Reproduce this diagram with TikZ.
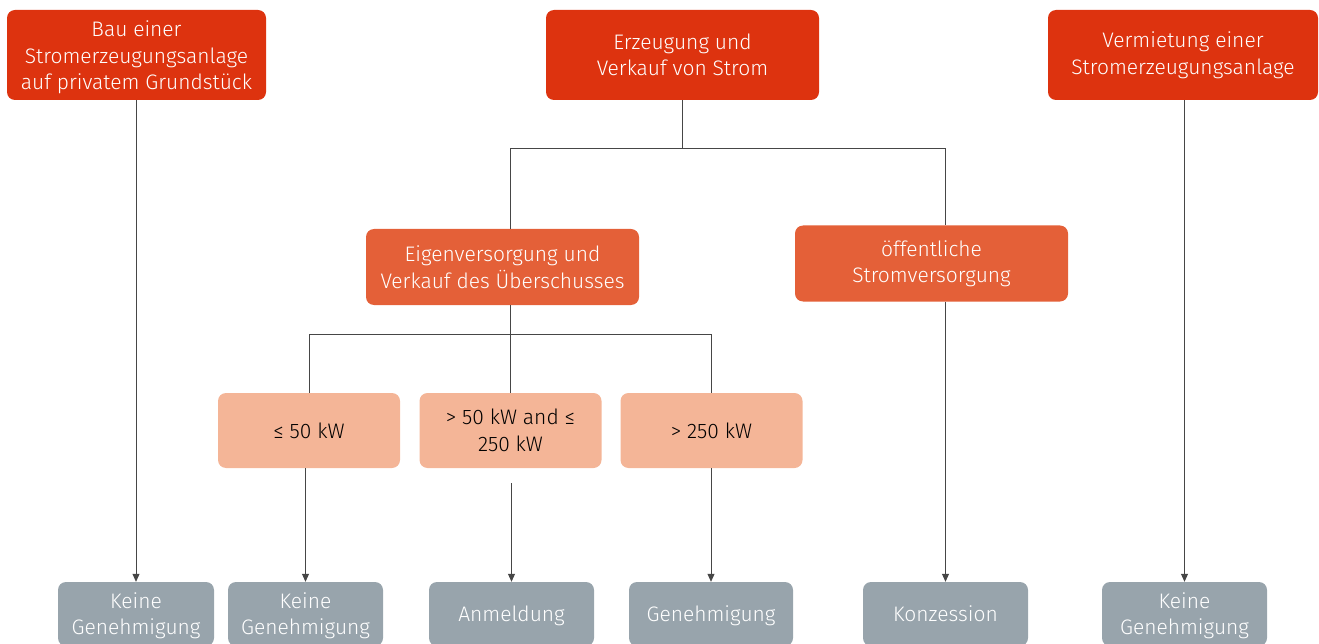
\documentclass[tikz,border=0pt]{standalone}
\usepackage{fontspec}
\setmainfont{Fira Sans}[UprightFont=* Light]
\usetikzlibrary{arrows.meta}
\definecolor{toprd}{RGB}{221,51,15}
\definecolor{midor}{RGB}{228,96,56}
\definecolor{lowsal}{RGB}{244,181,151}
\definecolor{endgr}{RGB}{152,164,172}
\definecolor{wire}{RGB}{70,70,70}

\begin{document}
\begin{tikzpicture}[x=1pt, y=-1pt,
  box/.style={rounded corners=8pt, align=center, inner sep=0pt, font=\fontsize{21}{26.5}\selectfont},
  lvlone/.style={box, fill=toprd, text=white, minimum height=90pt},
  lvltwo/.style={box, fill=midor, text=white, minimum width=273pt, minimum height=76pt},
  lvlthree/.style={box, fill=lowsal, text=black, minimum width=182pt, minimum height=75pt},
  result/.style={box, fill=endgr, text=white, minimum height=64pt},
  oneline/.style={text height=16pt, text depth=0.5pt},
  drop/.style={text height=#1},
  link/.style={draw=wire, line width=0.8pt},
  arrow/.style={link, -{Triangle[length=8pt,width=7pt]}}]
  \clip (0,0) rectangle (1319,644);
  % first row
  \node[lvlone, drop=73.5pt, minimum width=259pt] (bau)  at (136.5,55) {Bau einer\\Stromerzeugungsanlage\\auf privatem Grundstück};
  \node[lvlone, minimum width=273pt] (erz)  at (682.5,55) {Erzeugung und\\Verkauf von Strom};
  \node[lvlone, minimum width=270pt] (verm) at (1183,55)  {Vermietung einer\\Stromerzeugungsanlage};
  % second row
  \node[lvltwo] (eigen) at (502.5,267)   {Eigenversorgung und\\Verkauf des Überschusses};
  \node[lvltwo] (oeff)  at (931.5,263.5) {öffentliche\\Stromversorgung};
  % power classes
  \node[lvlthree, oneline] (s1) at (309,430.5)   {≤ 50 kW};
  \node[lvlthree] (s2) at (510.5,430.5) {> 50 kW and ≤\\250 kW};
  \node[lvlthree, oneline] (s3) at (711.5,430.5) {> 250 kW};
  % outcomes, cut off by the lower edge
  \node[result, drop=46pt, minimum width=156pt] (k1)   at (136,614)   {Keine\\Genehmigung};
  \node[result, drop=46pt, minimum width=155pt] (k2)   at (305.5,614) {Keine\\Genehmigung};
  \node[result, oneline, minimum width=165pt] (anm)  at (511.5,614) {Anmeldung};
  \node[result, oneline, minimum width=164pt] (gen)  at (711,614)   {Genehmigung};
  \node[result, oneline, minimum width=165pt] (konz) at (945.5,614) {Konzession};
  \node[result, drop=46pt, minimum width=165pt] (k3)   at (1184.5,614) {Keine\\Genehmigung};

  \draw[link] (erz.south) -- ++(0,48) coordinate (fork1);
  \draw[link] ([xshift=7.5pt]eigen.north) |- (fork1) -| ([xshift=13.5pt]oeff.north);
  \draw[link] (eigen.south -| s2) -- (s2.north);
  \draw[link] (s1.north) |- ([yshift=-29pt]eigen.south -| s2) -| (s3.north);
  \foreach \a/\b in {bau/k1, s1/k2, s3/gen, oeff/konz, verm/k3}{
    \draw[arrow] (\a.south -| \b) -- (\b.north); }
  \draw[arrow] ([yshift=-15pt]s2.south -| anm) -- (anm.north);
\end{tikzpicture}
\end{document}
